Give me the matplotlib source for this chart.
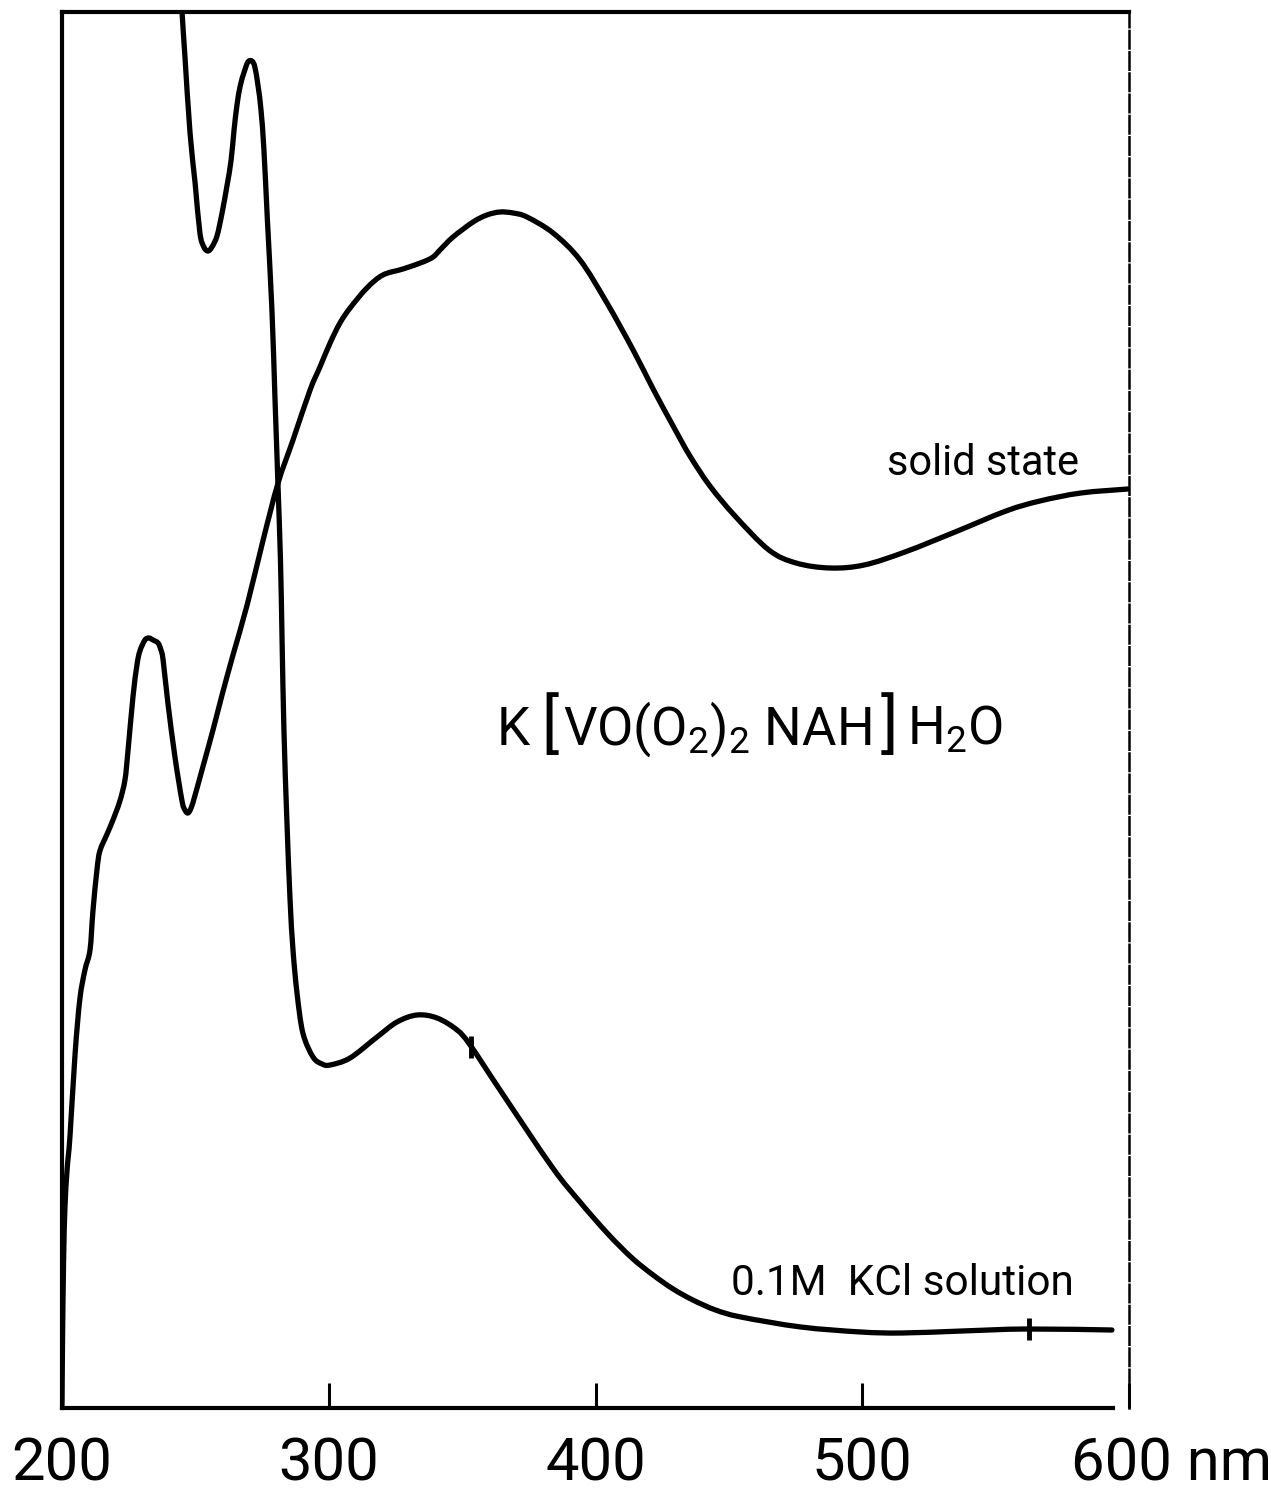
import numpy as np
import matplotlib
matplotlib.use("Agg")
import matplotlib.pyplot as plt
from matplotlib.transforms import ScaledTranslation, IdentityTransform
from matplotlib.path import Path
from matplotlib.patches import PathPatch

plt.rcParams['font.family'] = ['Roboto', 'DejaVu Sans']
plt.rcParams['mathtext.fontset'] = 'custom'
plt.rcParams['mathtext.rm'] = 'Roboto'
plt.rcParams['mathtext.it'] = 'Roboto:italic'
plt.rcParams['mathtext.bf'] = 'Roboto:bold'

# ---- data (wavelength in nm, absorbance in arbitrary units) ----
kcl_wavelength = [244.2, 245.0, 246.1, 248.0, 249.9, 251.7, 253.2, 254.7, 256.2, 258.1,
                  260.0, 261.9, 263.4, 264.5, 265.6, 266.8, 268.3, 269.7, 271.2, 272.3,
                  273.5, 274.6, 275.7, 277.0, 278.7, 279.8, 280.9, 281.9, 282.5, 283.2,
                  284.3, 285.5, 286.6, 288.1, 290.3, 294.1, 297.5, 300.5, 308.0, 318.1,
                  325.6, 333.1, 340.6, 348.1, 353.0, 364.2, 383.7, 394.2, 404.7, 413.7,
                  421.6, 429.1, 436.5, 445.0, 454.5, 477.0, 499.5, 514.9, 537.4, 561.4,
                  593.6]
kcl_absorbance = [1.438, 1.396, 1.351, 1.275, 1.225, 1.175, 1.161, 1.157, 1.161, 1.172,
                  1.195, 1.223, 1.248, 1.278, 1.303, 1.322, 1.336, 1.346, 1.347, 1.341,
                  1.322, 1.298, 1.258, 1.188, 1.098, 1.013, 0.928, 0.848, 0.768, 0.678,
                  0.588, 0.508, 0.458, 0.415, 0.375, 0.351, 0.344, 0.343, 0.350, 0.371,
                  0.386, 0.393, 0.390, 0.378, 0.363, 0.318, 0.241, 0.206, 0.174, 0.150,
                  0.133, 0.119, 0.108, 0.098, 0.091, 0.081, 0.076, 0.075, 0.077, 0.079,
                  0.078]

solid_wavelength = [200.0, 200.2, 200.6, 201.1, 201.9, 203.0, 204.9, 206.7, 208.6, 210.5,
                    211.6, 213.1, 214.2, 216.9, 219.1, 221.7, 223.6, 224.7, 226.6, 228.1,
                    229.2, 231.1, 232.6, 234.1, 236.0, 237.1, 237.9, 239.7, 242.4, 245.0,
                    246.1, 247.2, 248.4, 249.9, 252.9, 256.6, 260.0, 264.1, 269.4, 275.4,
                    281.0, 286.6, 293.0, 296.7, 300.5, 304.2, 308.0, 314.3, 320.3, 327.8,
                    335.3, 339.1, 341.7, 346.6, 354.1, 359.3, 364.2, 369.1, 374.3, 384.1,
                    394.2, 404.3, 414.1, 421.6, 429.1, 435.4, 442.9, 452.3, 465.0, 475.2,
                    487.9, 500.7, 516.0, 534.8, 553.9, 566.6, 582.0, 599.6]
solid_absorbance = [0.003, 0.068, 0.148, 0.200, 0.238, 0.272, 0.354, 0.409, 0.438, 0.458,
                    0.497, 0.538, 0.557, 0.574, 0.588, 0.607, 0.628, 0.656, 0.711, 0.743,
                    0.757, 0.768, 0.770, 0.768, 0.765, 0.758, 0.748, 0.705, 0.650, 0.607,
                    0.598, 0.595, 0.600, 0.613, 0.642, 0.678, 0.713, 0.753, 0.803, 0.868,
                    0.925, 0.968, 1.018, 1.041, 1.065, 1.085, 1.100, 1.120, 1.133, 1.139,
                    1.146, 1.151, 1.158, 1.171, 1.186, 1.193, 1.196, 1.195, 1.191, 1.175,
                    1.148, 1.105, 1.058, 1.019, 0.982, 0.952, 0.922, 0.892, 0.858, 0.845,
                    0.840, 0.843, 0.856, 0.876, 0.897, 0.907, 0.915, 0.919]

kcl_marks = [353.5, 562.5]          # small tick marks on the solution curve
x_ticks = [200, 300, 400, 500, 600]
x_ticklabels = ['200', '300', '400', '500', '']
last_label = '600 nm'
formula_parts = ['K', '[', r'VO(O$_2$)$_2$ NAH', ']', r'H$_2$O']


def smooth_path(x, y):
    """Smooth Bezier path through the measured points (points stay on the curve)."""
    pts = np.column_stack([x, y])
    n = len(pts)
    verts = [pts[0]]
    codes = [Path.MOVETO]
    for i in range(n - 1):
        p0 = pts[max(i - 1, 0)]
        p1 = pts[i]
        p2 = pts[i + 1]
        p3 = pts[min(i + 2, n - 1)]
        verts += [p1 + (p2 - p0) / 6.0, p2 - (p3 - p1) / 6.0, p2]
        codes += [Path.CURVE4] * 3
    return Path(verts, codes)


# ---- figure ----
fig = plt.figure(figsize=(12.71, 14.98), dpi=100)
W, H = 1271, 1498
ax = fig.add_axes([62 / W, (H - 1408) / H, (1129 - 62) / W, (1408 - 12) / H])

for xs, ys in [(kcl_wavelength, kcl_absorbance), (solid_wavelength, solid_absorbance)]:
    ax.add_patch(PathPatch(smooth_path(xs, ys), facecolor='none', edgecolor='black',
                           lw=3.8, capstyle='round', joinstyle='round'))

mark_y = np.interp(kcl_marks, kcl_wavelength, kcl_absorbance)
ax.plot(kcl_marks, mark_y, linestyle='none', marker='|', markersize=16,
        markeredgewidth=3.5, color='black')

ax.set_xlim(200, 600)
ax.set_ylim(0, 1.396)

for side in ['left', 'top', 'bottom']:
    ax.spines[side].set_linewidth(3.0)
    ax.spines[side].set_color('black')
ax.spines['bottom'].set_bounds(200, 594)
ax.spines['right'].set_linewidth(1.8)
ax.spines['right'].set_linestyle((0, (7, 1.5)))

pad = 20
ax.set_xticks(x_ticks)
ax.set_xticklabels(x_ticklabels, fontsize=43)
ax.tick_params(axis='x', direction='in', length=18, width=2.2, pad=pad, colors='black')
ax.set_yticks([])

off = ScaledTranslation(-0.58, -pad / 72, fig.dpi_scale_trans)
ax.text(600, 0, last_label, transform=ax.get_xaxis_transform() + off,
        fontsize=43, ha='left', va='top')

ax.text(509.3, 0.933, 'solid state', fontsize=30, ha='left', va='baseline')
ax.text(450.8, 0.113, '0.1M  KCl solution', fontsize=30.5, ha='left', va='baseline')

# formula, built piece by piece so the brackets can be taller
renderer = fig.canvas.get_renderer()
x_disp, y_disp = ax.transData.transform((363.0, 0.663))
sizes = [38, 47, 38, 47, 38]
gaps = [11, 5, 9, 9, 0]
for part, fs, gap in zip(formula_parts, sizes, gaps):
    t = ax.text(x_disp, y_disp, part, transform=IdentityTransform(), fontsize=fs,
                ha='left', va='baseline')
    bb = t.get_window_extent(renderer)
    x_disp = bb.x1 + gap

fig.savefig('out.png', dpi=100, facecolor='white')
